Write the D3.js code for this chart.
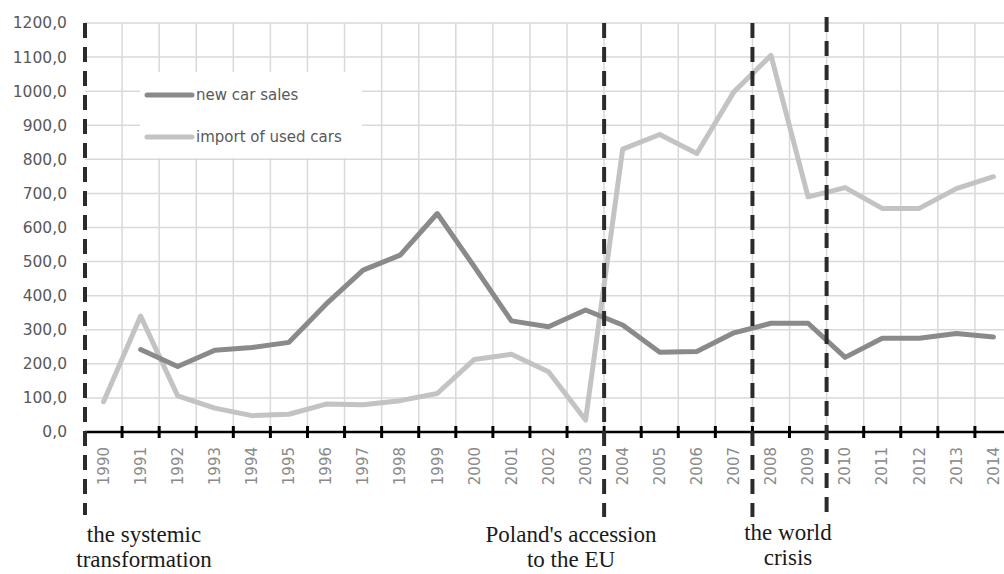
<!DOCTYPE html>
<html>
<head>
<meta charset="utf-8">
<script src="https://cdn.jsdelivr.net/npm/d3@7"></script>
<style>
  html, body { margin: 0; padding: 0; background: #fff; }
  svg { display: block; }
</style>
</head>
<body>
<svg id="chart" width="1004" height="574"></svg>
<script>
// ---- data ----
const years = [1990,1991,1992,1993,1994,1995,1996,1997,1998,1999,2000,2001,2002,2003,2004,2005,2006,2007,2008,2009,2010,2011,2012,2013,2014];
const newCarSales = [null,242,192,240,248,263,375,475,519,641,485,326,309,358,314,234,236,291,319,319,219,275,275,289,279];
const importUsedCars = [89,340,106,70,48,52,82,80,92,113,213,228,177,35,830,873,817,998,1105,690,717,656,656,714,749];
const seriesNames = ["new car sales", "import of used cars"];
const yTicks = [0,100,200,300,400,500,600,700,800,900,1000,1100,1200];
const markerYears = [1990, 2004, 2008, 2010];
const annotations = [
  { year: 1990, lines: ["the systemic", "transformation"] },
  { year: 2004, lines: ["Poland's accession", "to the EU"] },
  { year: 2009, lines: ["the world", "crisis"] }
];

// ---- layout ----
const svg = d3.select("#chart");
const left = 85, step = 37.08;
const x = d3.scaleBand().domain(years).range([left, left + years.length * step]).padding(0);
const y = d3.scaleLinear().domain([0, 1200]).range([432, 23]);
const xRight = 1004;
const gridColor = "#d9d9d9";

// horizontal gridlines
svg.append("g").selectAll("line").data(yTicks.filter(d => d > 0)).join("line")
  .attr("x1", left).attr("x2", xRight)
  .attr("y1", d => y(d)).attr("y2", d => y(d))
  .attr("stroke", gridColor).attr("stroke-width", 1.5);

// vertical gridlines at category boundaries
const boundaries = years.slice(1).map(yr => x(yr)).concat([x(years[years.length-1]) + x.bandwidth()]);
svg.append("g").selectAll("line").data(boundaries).join("line")
  .attr("x1", d => d).attr("x2", d => d)
  .attr("y1", y(1200)).attr("y2", y(0))
  .attr("stroke", gridColor).attr("stroke-width", 1.5);

// y axis labels
const yAxis = d3.axisLeft(y).tickValues(yTicks).tickSize(0).tickPadding(18)
  .tickFormat(d => d.toFixed(1).replace(".", ","));
const gy = svg.append("g").attr("transform", `translate(${left},0)`).call(yAxis);
gy.select(".domain").remove();
gy.selectAll("text").attr("font-family", "DejaVu Sans").attr("font-size", 15.5).attr("fill", "#595959");

// legend background
const legG = svg.append("g");
legG.append("rect").attr("x", 140).attr("y", 72).attr("width", 222).attr("height", 86).attr("fill", "#fff");

// lines
const cx = d => x(d) + x.bandwidth() / 2;
const lineGen = d3.line().defined(d => d[1] != null).x(d => cx(d[0])).y(d => y(d[1]));
const series = [
  { name: seriesNames[0], values: newCarSales, color: "#8a8a8a" },
  { name: seriesNames[1], values: importUsedCars, color: "#c3c3c3" }
];
svg.append("g").selectAll("path").data(series.slice().reverse()).join("path")
  .attr("d", s => lineGen(years.map((yr, i) => [yr, s.values[i]])))
  .attr("fill", "none").attr("stroke", s => s.color).attr("stroke-width", 5)
  .attr("stroke-linejoin", "round").attr("stroke-linecap", "round");

// legend entries
series.forEach((s, i) => {
  const ly = 95 + i * 42;
  legG.append("line").attr("x1", 147).attr("x2", 192).attr("y1", ly).attr("y2", ly)
    .attr("stroke", s.color).attr("stroke-width", 5).attr("stroke-linecap", "round");
  legG.append("text").attr("x", 196).attr("y", ly).attr("dy", "0.35em")
    .attr("font-family", "DejaVu Sans").attr("font-size", 15).attr("fill", "#595959").text(s.name);
});

// x axis line and ticks
svg.append("line").attr("x1", left).attr("x2", xRight).attr("y1", y(0)).attr("y2", y(0))
  .attr("stroke", "#000").attr("stroke-width", 2.5);
svg.append("g").selectAll("line").data(boundaries).join("line")
  .attr("x1", d => d).attr("x2", d => d).attr("y1", y(0) - 6).attr("y2", y(0) + 6)
  .attr("stroke", "#000").attr("stroke-width", 3);

// x labels via axis
const xAxis = d3.axisBottom(x).tickSize(0).tickPadding(0);
const gx = svg.append("g").attr("transform", `translate(0,${y(0)})`).call(xAxis);
gx.select(".domain").remove();
gx.selectAll("text")
  .attr("font-family", "DejaVu Sans").attr("font-size", 15).attr("fill", "#8a8a8a")
  .attr("text-anchor", "end").attr("transform", "rotate(-90)")
  .attr("x", -15).attr("y", 0).attr("dy", "0.35em");

// dashed marker lines
const markerExtents = { 1990: [23, 515], 2004: [23, 517], 2008: [23, 517], 2010: [17, 512] };
svg.append("g").selectAll("line").data(markerYears).join("line")
  .attr("x1", d => x(d)).attr("x2", d => x(d))
  .attr("y1", d => markerExtents[d][0]).attr("y2", d => markerExtents[d][1])
  .attr("stroke", "#2b2b2b").attr("stroke-width", 4).attr("stroke-dasharray", "15,9");

// annotations
const annX = { 1990: 144, 2004: 571, 2009: 788 };
const annY = { 1990: 542, 2004: 542, 2009: 540 };
annotations.forEach(a => {
  const t = svg.append("text").attr("text-anchor", "middle")
    .attr("font-family", "Liberation Serif").attr("font-size", 23).attr("fill", "#1a1a1a");
  a.lines.forEach((ln, i) => {
    t.append("tspan").attr("x", annX[a.year]).attr("y", annY[a.year] + i * 25).text(ln);
  });
});
</script>
</body>
</html>
